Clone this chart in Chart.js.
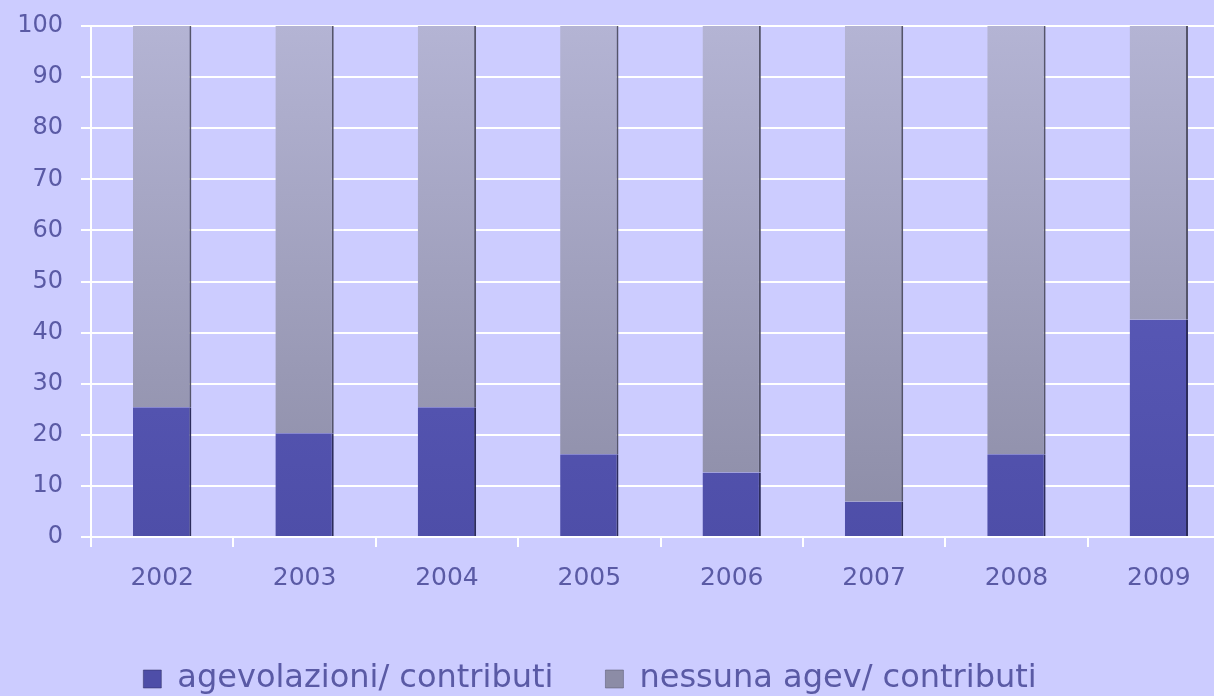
<!DOCTYPE html>
<html>
<head>
<meta charset="utf-8">
<script src="https://cdn.jsdelivr.net/npm/chart.js@4"></script>
<style>
    body { margin: 0; background: #ccccff; overflow: hidden; }
    #wrap { width: 1230px; height: 696px; position: relative; }
</style>
</head>
<body>
<div id="wrap"><canvas id="graph"></canvas></div>
<script>
const years = ["2002", "2003", "2004", "2005", "2006", "2007", "2008", "2009"];
const agevolazioni = [25.4, 20.3, 25.4, 16.2, 12.6, 6.9, 16.2, 42.5];
const nessuna = [74.6, 79.7, 74.6, 83.8, 87.4, 93.1, 83.8, 57.5];

const textColor = "#5a5aa5";
const fontFamily = "'DejaVu Sans', Verdana, sans-serif";

// vertical shading so the bars look a bit like the bevelled originals
function shade(top, bottom, flat) {
    return (context) => {
        const area = context.chart.chartArea;
        if (!area) return flat;
        const g = context.chart.ctx.createLinearGradient(0, area.top, 0, area.bottom);
        g.addColorStop(0, top);
        g.addColorStop(1, bottom);
        return g;
    };
}

// nudge the legend left and down, like the original
const legendShift = {
    id: "legendShift",
    afterLayout(chart) {
        chart.legend.left -= 25;
        chart.legend.right -= 25;
        chart.legend.top += 12;
        chart.legend.bottom += 12;
    }
};

const ctx = document.getElementById("graph").getContext("2d");
new Chart(ctx, {
    type: "bar",
    data: {
        labels: years,
        datasets: [{
            label: "agevolazioni/ contributi",
            data: agevolazioni,
            backgroundColor: shade("#6262c4", "#4e4ea8", "#5858b4"),
            borderColor: "#2c2c5c",
            borderWidth: { left: 0, right: 2, top: 0, bottom: 0 },
            borderSkipped: false,
            categoryPercentage: 1,
            barPercentage: 0.41
        }, {
            label: "nessuna agev/ contributi",
            data: nessuna,
            backgroundColor: shade("#b4b4d4", "#8c8ca6", "#9a9ab6"),
            borderColor: "#55556a",
            borderWidth: { left: 0, right: 2, top: 0, bottom: 0 },
            borderSkipped: false,
            categoryPercentage: 1,
            barPercentage: 0.41
        }]
    },
    options: {
        responsive: true,
        maintainAspectRatio: false,
        animation: false,
        layout: {
            padding: { top: 26, bottom: 3, left: 0, right: 0 }
        },
        plugins: {
            legend: {
                position: "bottom",
                labels: {
                    color: textColor,
                    font: { family: fontFamily, size: 32 },
                    boxWidth: 18,
                    boxHeight: 18,
                    padding: 52
                }
            },
            tooltip: { enabled: false }
        },
        scales: {
            x: {
                stacked: true,
                afterFit: (scale) => { scale.height = 62; },
                grid: {
                    drawOnChartArea: false,
                    drawTicks: true,
                    tickLength: 10,
                    color: "#ffffff",
                    lineWidth: 2
                },
                border: { color: "#ffffff", width: 2 },
                ticks: {
                    color: textColor,
                    font: { family: fontFamily, size: 25 },
                    padding: 16
                }
            },
            y: {
                stacked: true,
                min: 0,
                max: 100,
                afterFit: (scale) => {
                    scale.width = 91;
                    scale.paddingTop = 0;
                },
                grid: {
                    color: "#ffffff",
                    lineWidth: 2,
                    tickLength: 10
                },
                border: { color: "#ffffff", width: 2 },
                ticks: {
                    stepSize: 10,
                    color: textColor,
                    font: { family: fontFamily, size: 24 },
                    padding: 18
                }
            }
        }
    },
    plugins: [legendShift]
});
</script>
</body>
</html>
